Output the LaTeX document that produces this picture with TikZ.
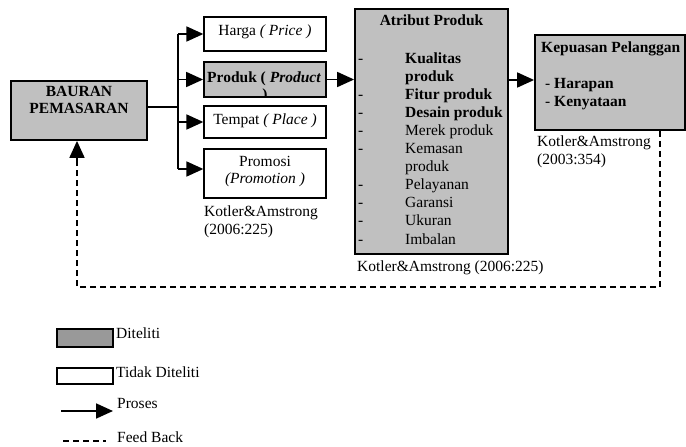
\documentclass[tikz,border=0pt]{standalone}
\usepackage{fontspec}
\setmainfont{Liberation Serif}
\usetikzlibrary{arrows.meta}
\definecolor{boxgray}{HTML}{C0C0C0}
\definecolor{leggray}{HTML}{999999}
\tikzset{
  graybox/.style={draw, line width=1.8pt, fill=boxgray, inner sep=0pt},
  whitebox/.style={draw, line width=1.3pt, fill=white, inner sep=0pt},
  txt/.style={inner sep=0pt, anchor=base west, font=\fontsize{15.5}{18}\selectfont},
  ctxt/.style={inner sep=0pt, anchor=base, font=\fontsize{15.5}{18}\selectfont},
  proc/.style={line width=1.8pt, -{Triangle[length=17pt,width=15pt]}},
  fb/.style={line width=1.8pt, dash pattern=on 6pt off 4pt},
}
\begin{document}
\begin{tikzpicture}[x=1pt,y=-1pt]
\useasboundingbox (0,0) rectangle (686,447);
% boxes
\node[graybox, minimum width=136pt, minimum height=59pt] (bauran) at (79,110.5) {};
\node[ctxt, font=\fontsize{15.5}{18}\selectfont\bfseries] (b1) at (79,96) {BAURAN};
\node[ctxt, font=\fontsize{15.5}{18}\selectfont\bfseries] (b2) at (79,113) {PEMASARAN};

\node[whitebox, minimum width=122pt, minimum height=34pt] (harga) at (265,34) {};
\node[ctxt] (hargat) at (265,35) {Harga \textit{( Price )}};
\node[graybox, minimum width=122pt, minimum height=35pt] (produk) at (265,79.5) {};
\begin{scope}
\clip (produk.north west) rectangle (produk.south east);
\node[txt] (produkt) at (207,82) {\textbf{Produk ( \textit{Product}}};
\node[ctxt] (produkt2) at (265,99) {\textbf{)}};
\end{scope}
\node[whitebox, minimum width=122pt, minimum height=32pt] (tempat) at (265,122) {};
\node[ctxt] (tempatt) at (265,124) {Tempat \textit{( Place )}};
\node[whitebox, minimum width=122pt, minimum height=49pt] (promosi) at (265,173.5) {};
\node[ctxt] (promosit1) at (265,166) {Promosi};
\node[ctxt] (promosit2) at (265,183) {\textit{(Promotion )}};
\node[txt] (ref1a) at (204,216) {Kotler\&Amstrong};
\node[txt] (ref1b) at (204,234) {(2006:225)};

% Atribut produk
\node[graybox, minimum width=153pt, minimum height=245pt] (atr) at (431.5,131.5) {};
\node[ctxt, font=\fontsize{15.5}{18}\selectfont\bfseries] (atrt) at (431.5,25) {Atribut Produk};
\foreach \i/\s/\d in {0/{\textbf{Kualitas}}/1, 1/{\textbf{produk}}/0, 2/{\textbf{Fitur produk}}/1, 3/{\textbf{Desain produk}}/1, 4/{Merek produk}/1, 5/{Kemasan}/1, 6/{produk}/0, 7/{Pelayanan}/1, 8/{Garansi}/1, 9/{Ukuran}/1, 10/{Imbalan}/1}{
  \node[txt] (al\i) at (405,{63+18.1*\i}) {\s};
  \ifnum\d=1 \node[txt] (ad\i) at (358,{63+18.1*\i}) {-}; \fi
}
\node[txt] (ref2) at (357,271) {Kotler\&Amstrong (2006:225)};

% Kepuasan
\node[graybox, minimum width=150pt, minimum height=95pt] (kep) at (610,82.5) {};
\node[txt, font=\fontsize{15.5}{18}\selectfont\bfseries] (kept) at (541,52) {Kepuasan Pelanggan};
\node[txt] (kep1) at (545,88) {- \textbf{Harapan}};
\node[txt] (kep2) at (545,106) {- \textbf{Kenyataan}};
\node[txt] (ref3a) at (537,146) {Kotler\&Amstrong};
\node[txt] (ref3b) at (537,164) {(2003:354)};

% connectors
\coordinate (trunk) at (178,107);
\draw[line width=1.3pt] (bauran.east |- trunk) -- (trunk);
\draw[line width=1.8pt] (178,34) -- (178,169);
\draw[proc] (178,34) -- (harga.west);
\draw[proc] (178,79.5) -- (produk.west);
\draw[proc] (178,122) -- (tempat.west);
\draw[proc] (178,169) -- (promosi.west |- 0,169);
\draw[proc] (produk.east) -- (atr.west |- produk.east);
\draw[proc] (atr.east |- 0,80) -- (kep.west |- 0,80);
\coordinate (fbup) at (77,160);
\draw[fb] (kep.south -| 660,0) -- (660,287) -- (77,287) -- (fbup);
\draw[proc] (fbup) -- (bauran.south -| 77,0);

% legend
\node[draw, line width=1.8pt, fill=leggray, minimum width=56pt, minimum height=18pt, inner sep=0pt] (lg1) at (85,338) {};
\node[txt] (lg1t) at (116,338) {Diteliti};
\node[whitebox, line width=1.8pt, minimum width=56pt, minimum height=16pt] (lg2) at (85,376) {};
\node[txt] (lg2t) at (116,377) {Tidak Diteliti};
\coordinate (lg3a) at (61,411);
\coordinate (lg3b) at (113,411);
\draw[proc] (lg3a) -- (lg3b);
\node[txt] (lg3t) at (117,408) {Proses};
\coordinate (lg4a) at (63,441);
\coordinate (lg4b) at (106,441);
\draw[fb] (lg4a) -- (lg4b);
\node[txt] (lg4t) at (117,442) {Feed Back};
\end{tikzpicture}
\end{document}
